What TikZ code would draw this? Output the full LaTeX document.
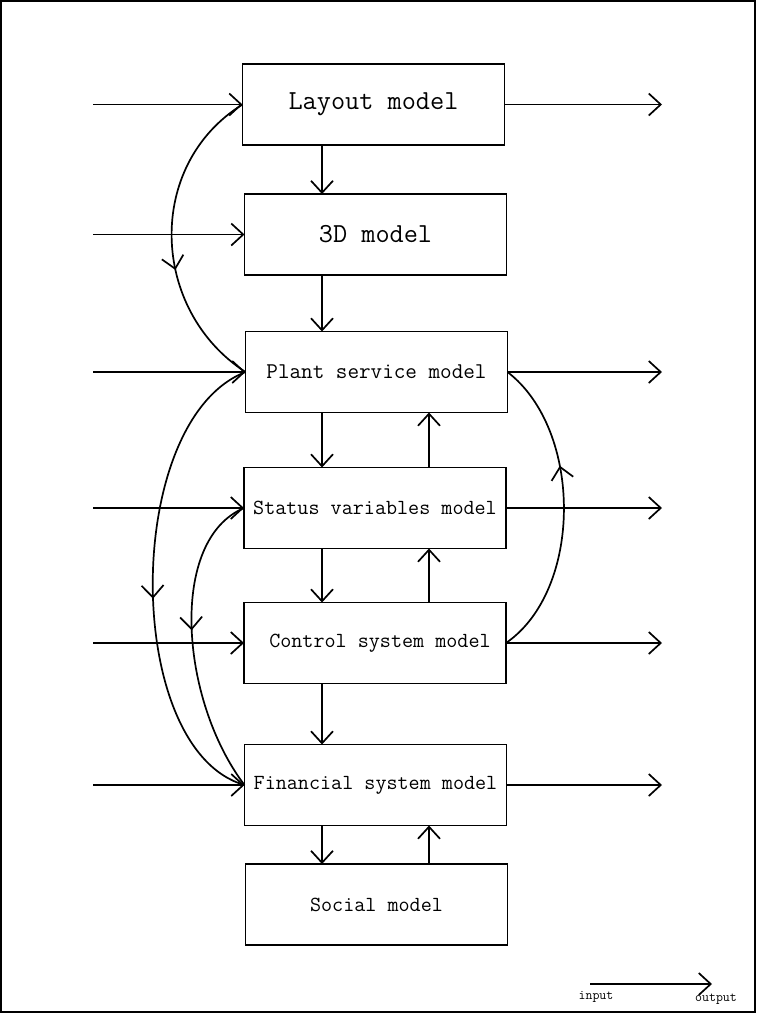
\documentclass[tikz,border=0pt]{standalone}
\usetikzlibrary{arrows.meta,decorations.markings}
\begin{document}
\begin{tikzpicture}[x=1pt,y=-1pt,line width=1.7pt,
  barb/.tip={Straight Barb[length=12pt,width=22pt]},
  arr/.style={-barb},
  box/.style={draw,minimum width=262pt,minimum height=81pt,inner sep=0pt,outer sep=0pt,
    font=\ttfamily\fontsize{21.5}{24}\selectfont},
  bigbox/.style={box,font=\ttfamily\fontsize{27.5}{30}\selectfont},
  legend/.style={inner sep=0pt,font=\ttfamily\fontsize{13.5}{15}\selectfont},
  midarrow/.style={postaction={decorate},
    decoration={markings,mark=at position #1 with {\arrow{barb}}}}]
\useasboundingbox (0,0) rectangle (756,1013);
\draw[line width=1.5pt] (1,1) rectangle (755,1012);

% model blocks
\node[bigbox] (L) at (373.5,104.5) {Layout model};
\node[bigbox] (D) at (375.5,234.5) {3D model};
\node[box,font=\ttfamily\fontsize{22.5}{24}\selectfont] (P) at (376.5,372) {Plant service model};
\node[box] (S) at (375,508) {Status variables model};
\node[box] (C) at (375,643) {\hspace*{10pt}Control system model};
\node[box] (F) at (375.5,785) {Financial system model};
\node[box] (So) at (376.5,904.5) {Social model};

% guide columns for inputs, outputs and vertical links
\coordinate (inx) at (93,0);
\coordinate (outx) at (662,0);
\coordinate (dx) at (322,0);
\coordinate (ux) at (429,0);

% inputs
\foreach \n in {L,D,P,S,C,F}
  \draw[arr] (\n.west -| inx) -- (\n.west);
% outputs
\foreach \n in {L,P,S,C,F}
  \draw[arr] (\n.east) -- (\n.east -| outx);

% downward links
\draw[arr] (L.south -| dx) -- (D.north -| dx);
\draw[arr] (D.south -| dx) -- (P.north -| dx);
\draw[arr] (P.south -| dx) -- (S.north -| dx);
\draw[arr] (S.south -| dx) -- (C.north -| dx);
\draw[arr] (C.south -| dx) -- (F.north -| dx);
\draw[arr] (F.south -| dx) -- (So.north -| dx);
% upward links
\draw[arr] (S.north -| ux) -- (P.south -| ux);
\draw[arr] (C.north -| ux) -- (S.south -| ux);
\draw[arr] (So.north -| ux) -- (F.south -| ux);

% feedback curves
\draw[midarrow=0.6] (L.west) .. controls (145,165) and (150,310) .. (P.west);
\draw[midarrow=0.54] (P.west) .. controls (122,420) and (122,750) .. (F.west);
\draw[midarrow=0.46] (S.west) .. controls (168,540) and (180,700) .. (F.west);
\draw[midarrow=0.64] (C.east) .. controls (583,590) and (583,430) .. (P.east);

% key
\coordinate (lgA) at (590,984);
\coordinate (lgB) at (712,984);
\draw[arr] (lgA) -- (lgB);
\node[legend] (lin) at (596,997) {input};
\node[legend] (lout) at (716,999) {output};
\end{tikzpicture}
\end{document}
